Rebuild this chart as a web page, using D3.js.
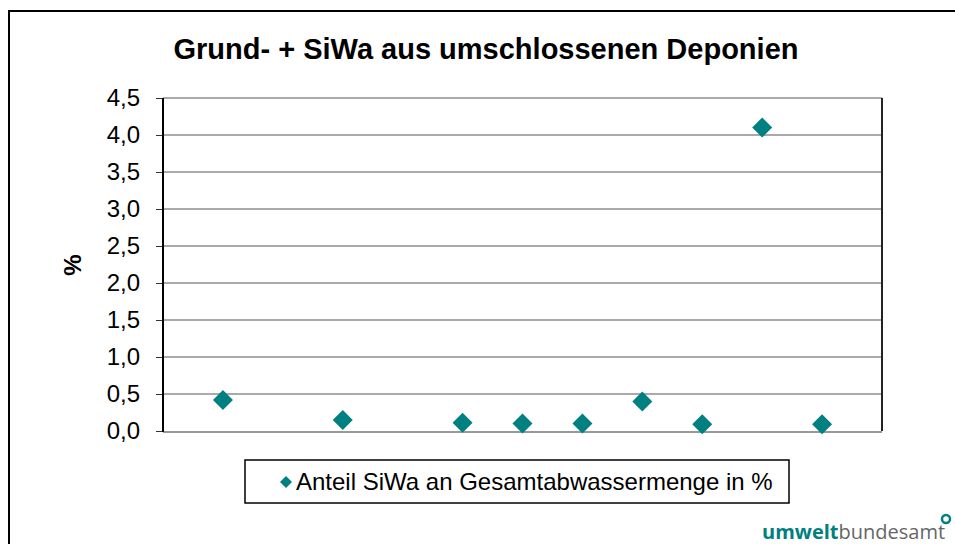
<!DOCTYPE html>
<html>
<head>
<meta charset="utf-8">
<script src="https://cdn.jsdelivr.net/npm/d3@7"></script>
<style>
  body { margin: 0; background: #fff; }
  svg { font-family: "Liberation Sans", Arial, sans-serif; }
</style>
</head>
<body>
<div id="chart"></div>
<script>
// Daten: Position auf der (unsichtbaren) x-Achse und Anteil in %
var xPos = [1, 3, 5, 6, 7, 8, 9, 10, 11];
var anteil = [0.42, 0.15, 0.11, 0.10, 0.10, 0.40, 0.09, 4.10, 0.09];
var yTicks = [0, 0.5, 1, 1.5, 2, 2.5, 3, 3.5, 4, 4.5];
var titel = "Grund- + SiWa aus umschlossenen Deponien";
var legendeText = "Anteil SiWa an Gesamtabwassermenge in %";

var width = 955, height = 544;
var plot = { left: 163, right: 882, top: 98, bottom: 431 };
var teal = "#008080";

var svg = d3.select("#chart").append("svg")
    .attr("width", width)
    .attr("height", height);

// Rahmen um das ganze Diagramm (rechts/unten abgeschnitten)
svg.append("rect")
    .attr("x", 9).attr("y", 11)
    .attr("width", 960).attr("height", 560)
    .attr("fill", "none")
    .attr("stroke", "#000")
    .attr("stroke-width", 2);

// Titel
svg.append("text")
    .attr("x", 486).attr("y", 59)
    .attr("text-anchor", "middle")
    .style("font-size", "29px")
    .style("font-weight", "bold")
    .text(titel);

var x = d3.scaleLinear().domain([0, 12]).range([plot.left, plot.right]);
var y = d3.scaleLinear().domain([0, 4.5]).range([plot.bottom, plot.top]);

// Gitterlinien
svg.append("g")
    .selectAll("line")
    .data(yTicks.filter(d => d > 0))
    .enter()
    .append("line")
    .attr("x1", plot.left).attr("x2", plot.right)
    .attr("y1", d => y(d)).attr("y2", d => y(d))
    .attr("stroke", "#555")
    .attr("stroke-width", 1);

// rechter Rand
svg.append("line")
    .attr("x1", plot.right).attr("x2", plot.right)
    .attr("y1", plot.top).attr("y2", plot.bottom)
    .attr("stroke", "#222").attr("stroke-width", 2);

// untere Linie (grau)
svg.append("line")
    .attr("x1", plot.left).attr("x2", plot.right)
    .attr("y1", plot.bottom + 1).attr("y2", plot.bottom + 1)
    .attr("stroke", "#999").attr("stroke-width", 2);

// y-Achse
var yAxis = d3.axisLeft(y)
    .tickValues(yTicks)
    .tickSize(7)
    .tickPadding(16)
    .tickFormat(d => d3.format(".1f")(d).replace(".", ","));

var gy = svg.append("g")
    .attr("transform", "translate(" + plot.left + ",0)")
    .call(yAxis);
gy.select(".domain").remove();
gy.selectAll(".tick line").attr("stroke", "#333");
gy.selectAll(".tick text")
    .attr("fill", "#000")
    .style("font-size", "24px")
    .style("font-family", "'Liberation Sans', Arial, sans-serif");
svg.append("line")
    .attr("x1", plot.left).attr("x2", plot.left)
    .attr("y1", plot.top).attr("y2", plot.bottom + 1)
    .attr("stroke", "#000").attr("stroke-width", 2);

// y-Achsentitel
svg.append("text")
    .attr("transform", "translate(81,265) rotate(-90)")
    .attr("text-anchor", "middle")
    .style("font-size", "24px")
    .style("font-weight", "bold")
    .text("%");

// Punkte (Rauten)
var diamond = d3.symbol().type(d3.symbolSquare).size(200);
svg.append("g")
    .selectAll("path")
    .data(anteil)
    .enter()
    .append("path")
    .attr("d", diamond)
    .attr("transform", (d, i) => "translate(" + x(xPos[i]) + "," + y(d) + ") rotate(45)")
    .attr("fill", teal);

// Legende
var leg = svg.append("g");
leg.append("rect")
    .attr("x", 245).attr("y", 460)
    .attr("width", 544).attr("height", 43)
    .attr("fill", "#fff")
    .attr("stroke", "#000")
    .attr("stroke-width", 1.5);
leg.append("path")
    .attr("d", d3.symbol().type(d3.symbolSquare).size(72))
    .attr("transform", "translate(286,482) rotate(45)")
    .attr("fill", teal);
leg.append("text")
    .attr("x", 296).attr("y", 490)
    .style("font-size", "24px")
    .text(legendeText);

// Logo
var logo = svg.append("text")
    .attr("x", 762).attr("y", 539)
    .style("font-family", "'Open Sans', 'DejaVu Sans', sans-serif")
    .style("font-size", "20px");
logo.append("tspan").attr("fill", teal).style("font-weight", "bold").text("umwelt");
logo.append("tspan").attr("fill", "#666").text("bundesamt");
svg.append("circle")
    .attr("cx", 946).attr("cy", 519).attr("r", 4)
    .attr("fill", "none").attr("stroke", teal).attr("stroke-width", 2.5);
</script>
</body>
</html>
